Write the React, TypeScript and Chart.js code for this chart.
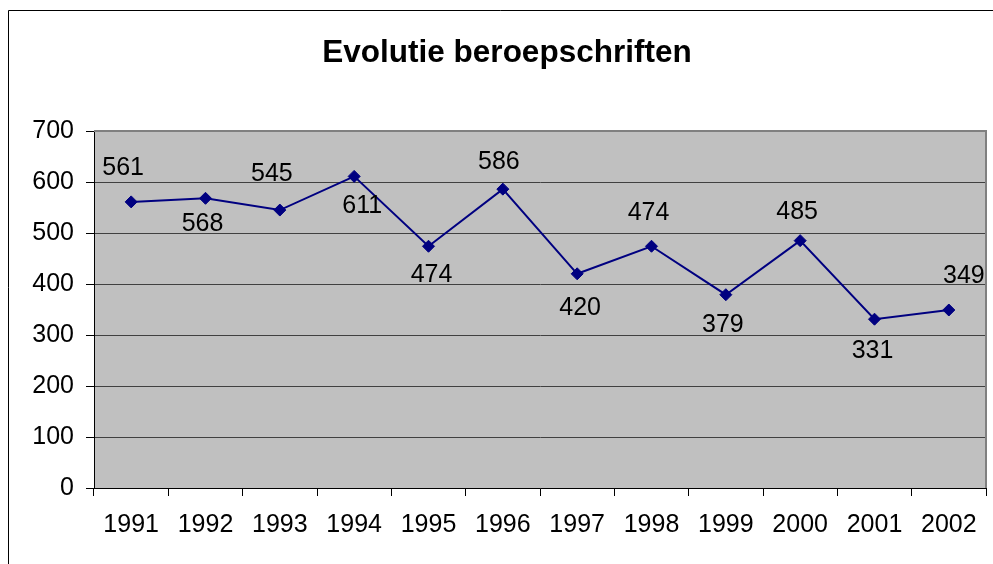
import React, { useEffect, useRef } from "react";
import { Chart, registerables } from "chart.js";

Chart.register(...registerables);

const TITLE = "Evolutie beroepschriften";
const YEARS = ["1991", "1992", "1993", "1994", "1995", "1996", "1997", "1998", "1999", "2000", "2001", "2002"];
const APPEALS = [561, 568, 545, 611, 474, 586, 420, 474, 379, 485, 331, 349];
const Y_MIN = 0;
const Y_MAX = 700;
const Y_STEP = 100;

// label placement relative to each point (style only)
const LABEL_OFFSETS: [number, number][] = [
  [-8, -36], [-3, 24], [-8, -38], [8, 28], [3, 27], [-4, -29],
  [3, 32], [-3, -35], [-3, 28], [-3, -31], [-2, 30], [15, -36],
];

const FONT = "'Liberation Sans', Arial, sans-serif";

const decorPlugin = {
  id: "decor",
  beforeDraw(chart: any) {
    const { ctx, chartArea: a, width, height } = chart;
    ctx.save();
    ctx.fillStyle = "#ffffff";
    ctx.fillRect(0, 0, width, height);
    // outer chart border
    ctx.strokeStyle = "#000000";
    ctx.lineWidth = 1;
    ctx.beginPath();
    ctx.moveTo(8.5, height);
    ctx.lineTo(8.5, 10.5);
    ctx.lineTo(width, 10.5);
    ctx.stroke();
    // plot background
    ctx.fillStyle = "#C0C0C0";
    ctx.fillRect(a.left, a.top, a.right - a.left, a.bottom - a.top);
    // title
    ctx.fillStyle = "#000000";
    ctx.font = `bold 31.5px ${FONT}`;
    ctx.textAlign = "center";
    ctx.textBaseline = "alphabetic";
    ctx.fillText(TITLE, 507, 62);
    ctx.restore();
  },
  beforeDatasetsDraw(chart: any) {
    const { ctx, chartArea: a } = chart;
    ctx.save();
    ctx.strokeStyle = "#808080";
    ctx.lineWidth = 2;
    ctx.beginPath();
    ctx.moveTo(a.left, a.top);
    ctx.lineTo(a.right, a.top);
    ctx.lineTo(a.right, a.bottom);
    ctx.stroke();
    ctx.restore();
  },
  afterDatasetsDraw(chart: any) {
    const { ctx } = chart;
    const meta = chart.getDatasetMeta(0);
    ctx.save();
    ctx.fillStyle = "#000000";
    ctx.font = `25px ${FONT}`;
    ctx.textAlign = "center";
    ctx.textBaseline = "alphabetic";
    meta.data.forEach((pt: any, i: number) => {
      const [dx, dy] = LABEL_OFFSETS[i] || [0, -30];
      ctx.fillText(String(APPEALS[i]), pt.x + dx, pt.y + dy + 9);
    });
    ctx.restore();
  },
};

export default function App() {
  const ref = useRef<HTMLCanvasElement | null>(null);
  useEffect(() => {
    if (!ref.current) return;
    const chart = new Chart(ref.current, {
      type: "line",
      data: {
        labels: YEARS,
        datasets: [
          {
            data: APPEALS,
            borderColor: "#000080",
            backgroundColor: "#000080",
            borderWidth: 2,
            pointStyle: "rectRot",
            pointRadius: 6,
            pointBorderWidth: 1,
            pointBackgroundColor: "#000080",
            pointBorderColor: "#000080",
            tension: 0,
            fill: false,
          },
        ],
      },
      options: {
        animation: false,
        responsive: false,
        maintainAspectRatio: false,
        layout: { padding: { top: 131, right: 7, left: 0, bottom: 0 } },
        plugins: {
          legend: { display: false },
          title: { display: false },
          tooltip: { enabled: false },
        },
        scales: {
          x: {
            type: "category",
            offset: true,
            afterFit(scale: any) {
              scale.height = 76;
            },
            grid: {
              display: true,
              offset: true,
              drawOnChartArea: false,
              drawTicks: true,
              tickLength: 8,
              tickColor: "#000000",
              tickWidth: 1,
            },
            border: { display: true, color: "#000000", width: 1 },
            ticks: {
              color: "#000000",
              font: { family: FONT, size: 25 },
              padding: 14,
              maxRotation: 0,
              autoSkip: false,
            },
          },
          y: {
            min: Y_MIN,
            max: Y_MAX,
            afterFit(scale: any) {
              scale.width = 94;
            },
            grid: {
              color: "#404040",
              lineWidth: 1,
              drawTicks: true,
              tickLength: 8,
              tickColor: "#000000",
            },
            border: { display: true, color: "#000000", width: 1 },
            ticks: {
              stepSize: Y_STEP,
              color: "#000000",
              font: { family: FONT, size: 25 },
              padding: 12,
            },
          },
        },
      },
      plugins: [decorPlugin],
    });
    return () => chart.destroy();
  }, []);
  return (
    <div style={{ position: "fixed", left: 0, top: 0, width: 993, height: 564, background: "#fff" }}>
      <canvas ref={ref} width={993} height={564} style={{ width: 993, height: 564, display: "block" }} />
    </div>
  );
}
